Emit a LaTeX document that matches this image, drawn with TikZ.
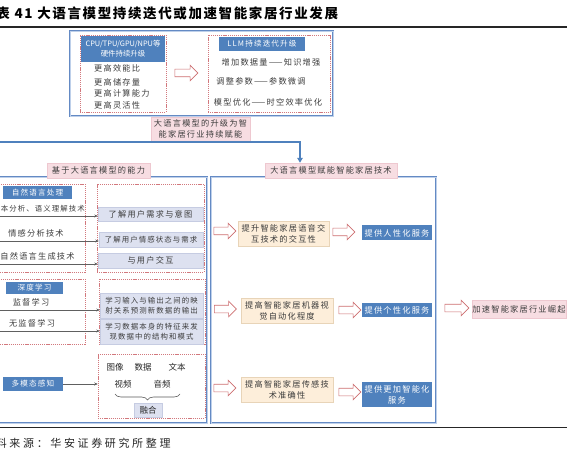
\documentclass[tikz,border=0pt]{standalone}
\usepackage{fontspec}
\setmainfont{Noto Sans CJK SC}
\newfontfamily\cjk{Noto Sans CJK SC}
\newfontfamily\cjksp[LetterSpace=15]{Noto Sans CJK SC}
\newfontfamily\cjkt[LetterSpace=12]{Noto Sans CJK SC}
\newfontfamily\cjkf[LetterSpace=24]{Noto Sans CJK SC}
\newcommand\bodytext{\cjksp\fontsize{8.2}{11}\selectfont}
\newcommand\smalltext{\cjksp\fontsize{7.4}{10.5}\selectfont}
\newcommand\hdrtext{\cjksp\fontsize{7.6}{10}\selectfont}
\newcommand\hwtext{\cjk\fontsize{7.4}{10}\selectfont}
\newcommand\sanstext{\cjk\fontsize{8.5}{10}\selectfont}
\newcommand\titletext{\cjkt\bfseries\fontsize{13.5}{15}\selectfont}
\newcommand\foottext{\cjkf\fontsize{11}{12}\selectfont}
\usetikzlibrary{arrows.meta,shapes.arrows,decorations.pathreplacing}
\definecolor{hdrblue}{RGB}{79,129,189}
\definecolor{frameblue}{RGB}{100,138,196}
\definecolor{framelight}{RGB}{190,208,234}
\definecolor{pinkf}{RGB}{247,221,226}
\definecolor{pinkd}{RGB}{238,200,208}
\definecolor{dotred}{RGB}{210,120,125}
\definecolor{lavf}{RGB}{221,225,240}
\definecolor{lavd}{RGB}{198,204,226}
\definecolor{creamf}{RGB}{253,238,218}
\definecolor{creamd}{RGB}{232,212,184}
\definecolor{txt}{RGB}{60,60,60}
\definecolor{arrred}{RGB}{205,110,112}
\begin{document}
\begin{tikzpicture}[x=1pt,y=-1pt,
  box/.style={inner sep=0pt, align=center, text=txt, font=\bodytext},
  hdr/.style={box, fill=hdrblue, text=white, font=\hdrtext},
  pinkbox/.style={box, fill=pinkf, draw=pinkd, line width=0.4pt},
  dotbox/.style={draw=dotred, dash pattern=on 1.2pt off 0.9pt, line width=0.5pt, inner sep=0pt},
  lav/.style={box, fill=lavf, draw=lavd, line width=0.4pt},
  cream/.style={box, fill=creamf, draw=creamd, line width=0.4pt},
  sans/.style={box, text=black!85, font=\sanstext},
  frame/.style={draw=frameblue, double=framelight, double distance=0.9pt, line width=0.8pt, inner sep=0pt},
  hollow/.style={single arrow, draw=arrred, fill=white, line width=0.6pt, inner sep=3.5pt, minimum width=15pt, minimum height=22pt, single arrow head extend=4pt, single arrow head indent=0pt},
  garrow/.style={draw=gray!75!black, line width=0.5pt, -{Stealth[length=3.5pt,width=3pt]}},
  bluecon/.style={draw=hdrblue, line width=1.3pt, -{Triangle[length=5pt,width=5.5pt]}}
]
\useasboundingbox (0,0) rectangle (567,462);
% title
\node[anchor=west, font=\titletext, text=black, inner sep=0pt] (title) at (-19,13) {图表 41 大语言模型持续迭代或加速智能家居行业发展};
\draw[line width=1.2pt, black!85] (0,27) -- (567,27);
% top section
\node[frame, minimum width=263pt, minimum height=85pt] (top) at (201.5,73.5) {};
\node[dotbox, minimum width=86pt, minimum height=77pt] (hwbox) at (123,73.5) {};
\node[hdr, font=\hwtext, minimum width=84pt, minimum height=26pt] (hwhdr) at (123,49) {CPU/TPU/GPU/NPU等\\硬件持续升级};
\node[box, anchor=west] (hw1) at (94,68) {更高效能比};
\node[box, anchor=west] (hw2) at (94,82) {更高储存量};
\node[box, anchor=west] (hw3) at (94,93.5) {更高计算能力};
\node[box, anchor=west] (hw4) at (94,105) {更高灵活性};
\node[hollow, minimum height=23pt] (arrtop) at (184.5,73) {};
\node[dotbox, minimum width=122pt, minimum height=77pt] (llmbox) at (269,73.5) {};
\node[hdr, minimum width=86pt, minimum height=14pt] (llmhdr) at (262,44) {LLM持续迭代升级};
\node[box] (llm1) at (271,62) {增加数据量——知识增强};
\node[box] (llm2) at (261,81) {调整参数——参数微调};
\node[box] (llm3) at (268,102) {模型优化——时空效率优化};
\node[pinkbox, minimum width=99pt, minimum height=24pt] (upg) at (200.5,129) {大语言模型的升级为智\\能家居行业持续赋能};
% frames
\node[frame, minimum width=212pt, minimum height=246pt] (lframe) at (101,300) {};
\node[frame, minimum width=225pt, minimum height=246pt] (rframe) at (323.5,300) {};
\node[pinkbox, minimum width=103pt, minimum height=15pt] (abil) at (98.5,170.5) {基于大语言模型的能力};
\node[pinkbox, minimum width=132pt, minimum height=15pt] (tech) at (331,170.5) {大语言模型赋能智能家居技术};
\coordinate (lend) at (-5,142);
\coordinate (turn) at (300,142);
\draw[bluecon] (lend) -- (turn) -- (turn |- tech.north);
% NLP
\node[dotbox, minimum width=87pt, minimum height=88pt] (nlpl) at (41.5,228) {};
\node[hdr, minimum width=69pt, minimum height=13pt] (nlph) at (37.5,192.5) {自然语言处理};
\node[box, font=\smalltext, anchor=east] (n1) at (85,209) {文本分析、语义理解技术};
\node[box] (n2) at (36,233) {情感分析技术};
\node[box] (n3) at (37.5,256) {自然语言生成技术};
\node[dotbox, minimum width=107pt, minimum height=88pt] (nlpr) at (150.5,228) {};
\node[lav, minimum width=105pt, minimum height=14pt] (r1) at (150.5,214) {了解用户需求与意图};
\node[lav, font=\smalltext, minimum width=104pt, minimum height=15pt] (r2) at (151,239.5) {了解用户情感状态与需求};
\node[lav, minimum width=105pt, minimum height=15pt] (r3) at (150.5,260.5) {与用户交互};
\coordinate (s1) at (-5,216);
\coordinate (s2) at (-5,241);
\coordinate (s3) at (-5,264);
\draw[garrow] (s1) -- (s1 -| r1.west);
\draw[garrow] (s2) -- (s2 -| r2.west);
\draw[garrow] (s3) -- (s3 -| r3.west);
% deep learning
\node[dotbox, minimum width=87pt, minimum height=65pt] (dll) at (41.5,311.5) {};
\node[hdr, minimum width=57pt, minimum height=12pt] (dlh) at (34.5,288) {深度学习};
\node[box] (d1) at (31,302) {监督学习};
\node[box] (d2) at (32,323) {无监督学习};
\node[dotbox, minimum width=106pt, minimum height=65pt] (dlr) at (152,311.5) {};
\node[lav, font=\smalltext, minimum width=103pt, minimum height=25pt] (la) at (151.5,305.5) {学习输入与输出之间的映\\射关系预测新数据的输出};
\node[lav, font=\smalltext, minimum width=103pt, minimum height=25pt] (lb) at (151.5,331.5) {学习数据本身的特征来发\\现数据中的结构和模式};
\coordinate (s4) at (-5,310);
\coordinate (s5) at (-5,331);
\draw[garrow] (s4) -- (s4 -| la.west);
\draw[garrow] (s5) -- (s5 -| lb.west);
% multimodal
\node[hdr, minimum width=60pt, minimum height=14pt] (mmh) at (33,384) {多模态感知};
\node[dotbox, minimum width=107pt, minimum height=64pt] (mmbox) at (151.5,386) {};
\draw[garrow] (mmh.east) -- (mmh.east -| mmbox.west);
\node[sans] (m1) at (115,367) {图像};
\node[sans] (m2) at (143,367) {数据};
\node[sans] (m3) at (177,367) {文本};
\node[sans] (m4) at (123,384) {视频};
\node[sans] (m5) at (162,384) {音频};
\coordinate (br1) at (180,394);
\coordinate (br2) at (115,394);
\draw[decorate, decoration={brace, amplitude=6pt}, draw=gray!70!black, line width=0.6pt] (br1) -- (br2);
\node[lav, font=\sanstext, text=black!85, minimum width=28pt, minimum height=14pt] (fuse) at (148,410) {融合};
% right side
\node[hollow] (ha1) at (223,231) {};
\node[cream, minimum width=91pt, minimum height=25pt] (c1) at (283.5,233.5) {提升智能家居语音交\\互技术的交互性};
\node[hollow] (hb1) at (342,232) {};
\node[hdr, font=\bodytext, minimum width=70pt, minimum height=15pt] (b1) at (397,233) {提供人性化服务};
\node[hollow] (ha2) at (223.5,309) {};
\node[cream, minimum width=92pt, minimum height=25pt] (c2) at (287,310.5) {提高智能家居机器视\\觉自动化程度};
\node[hollow] (hb2) at (348,310) {};
\node[hdr, font=\bodytext, minimum width=70pt, minimum height=14pt] (b2) at (397,310) {提供个性化服务};
\node[hollow] (ha3) at (223,388) {};
\node[cream, minimum width=92pt, minimum height=25pt] (c3) at (287,389.5) {提高智能家居传感技\\术准确性};
\node[hollow] (hb3) at (348,392) {};
\node[hdr, font=\bodytext, minimum width=70pt, minimum height=25pt] (b3) at (397,394.5) {提供更加智能化\\服务};
\node[hollow, minimum height=24pt] (hout) at (455,308) {};
\node[pinkbox, minimum width=94pt, minimum height=18pt] (final) at (519,309) {加速智能家居行业崛起};
% footer
\draw[line width=0.9pt, black!85] (0,427) -- (567,427);
\node[anchor=west, font=\foottext, text=black!85, inner sep=0pt] (src) at (-18,443) {资料来源：华安证券研究所整理};
\end{tikzpicture}
\end{document}
